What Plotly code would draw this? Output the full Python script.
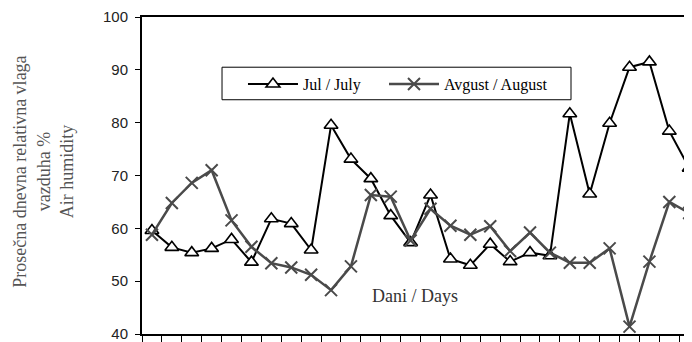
import plotly.graph_objects as go

days = list(range(1, 29))
jul = [59.6, 56.4, 55.4, 56.2, 57.9, 53.6, 61.8, 60.9, 55.9, 79.5, 73.1, 69.4, 62.4, 57.3,
       66.3, 54.2, 53.0, 57.0, 53.7, 55.4, 54.8, 81.7, 66.5, 79.9, 90.5, 91.5, 78.4, 71.4]
aug = [58.8, 64.8, 68.6, 71.0, 61.5, 56.5, 53.4, 52.6, 51.2, 48.3, 52.8, 66.3, 66.0, 57.7,
       63.7, 60.5, 58.8, 60.4, 55.7, 59.2, 55.4, 53.5, 53.5, 56.2, 41.4, 53.7, 65.0, 62.9]
y_ticks = [40, 50, 60, 70, 80, 90, 100]
series_names = ["Jul / July", "Avgust / August"]
x_title = "Dani / Days"
y_title = "Prosečna dnevna relativna vlaga<br>vazduha %<br>Air humidity"

fig = go.Figure()
fig.add_trace(go.Scatter(
    x=days, y=jul, name=series_names[0], mode="lines+markers",
    line=dict(color="black", width=2),
    marker=dict(symbol="triangle-up", size=12, color="white",
                line=dict(color="black", width=1.6)),
    cliponaxis=False, legend="legend",
))
fig.add_trace(go.Scatter(
    x=days, y=aug, name=series_names[1], mode="lines+markers",
    line=dict(color="#4a4a4a", width=2.5),
    marker=dict(symbol="x-thin-open", size=12,
                line=dict(color="#1a1a1a", width=2)),
    cliponaxis=False, legend="legend2",
))

legend_common = dict(
    orientation="h", y=0.842, xanchor="left", yanchor="top",
    borderwidth=0, bgcolor="rgba(0,0,0,0)",
    font=dict(family="Liberation Serif", size=16, color="black"),
    itemwidth=50,
)

# page has an 8px body margin: figure is shrunk so that the plot lands where it should
fig.update_layout(
    width=684, height=334,
    margin=dict(l=134, r=0, t=7, b=5),
    paper_bgcolor="white", plot_bgcolor="white",
    showlegend=True,
    legend=dict(x=0.1836, **legend_common),
    legend2=dict(x=0.44, **legend_common),
    xaxis=dict(
        range=[0.5, 28.14], showgrid=False, zeroline=False,
        showline=True, linecolor="black", linewidth=2, mirror=True,
        tickmode="array", tickvals=[d - 0.5 for d in days],
        ticks="outside", ticklen=6, tickwidth=1, tickcolor="black",
        showticklabels=False,
    ),
    yaxis=dict(
        range=[40, 100], showgrid=False, zeroline=False,
        showline=True, linecolor="black", linewidth=2,
        tickmode="array", tickvals=y_ticks, ticktext=[str(v) for v in y_ticks],
        ticks="outside", ticklen=5, tickwidth=1, tickcolor="black",
        tickfont=dict(family="Liberation Sans", size=15, color="#222"),
        ticklabelstandoff=4, ticklabeloverflow="allow",
    ),
    shapes=[
        dict(type="rect", xref="paper", yref="paper",
             x0=0.1455, x1=0.78, y0=0.739, y1=0.8416,
             line=dict(color="black", width=1), fillcolor="rgba(0,0,0,0)", layer="below"),
    ],
    annotations=[
        dict(text=x_title, x=14.24, y=47.2, xref="x", yref="y",
             showarrow=False, xanchor="center", yanchor="middle",
             font=dict(family="Liberation Serif", size=18, color="#333")),
        dict(text=y_title, x=-0.178, y=0.512, xref="paper", yref="paper",
             showarrow=False, textangle=-90, xanchor="center", yanchor="middle",
             font=dict(family="Liberation Serif", size=18, color="#555")),
    ],
)

fig.write_html("out.html")
